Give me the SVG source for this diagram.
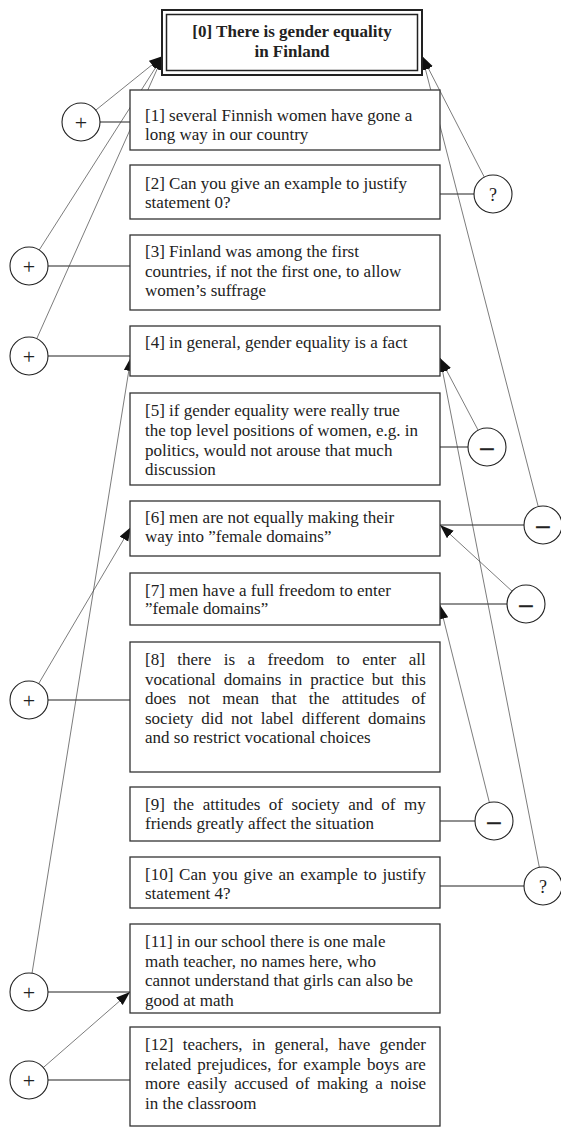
<svg xmlns="http://www.w3.org/2000/svg" width="561" height="1128" viewBox="0 0 561 1128">
  <style>
    .box { fill: #ffffff; stroke: #333333; stroke-width: 1.3; }
    .txt { font-family: "Liberation Serif", "Times New Roman", serif; font-size: 17px; fill: #222222; }
    .ttl { font-family: "Liberation Serif", "Times New Roman", serif; font-size: 17px; font-weight: bold; fill: #222222; text-anchor: middle; }
    .hub { fill: #ffffff; stroke: #222222; stroke-width: 1.1; }
    .sym { font-family: "Liberation Serif", "Times New Roman", serif; font-size: 22px; fill: #222222; text-anchor: middle; }
    .neg { font-family: "Liberation Sans", Arial, sans-serif; font-size: 24px; fill: #222222; stroke: #222222; stroke-width: 0.5; text-anchor: middle; }
    .qst { font-family: "Liberation Serif", "Times New Roman", serif; font-size: 18px; fill: #222222; text-anchor: middle; }
    .link { stroke: #222222; stroke-width: 1.1; fill: none; }
    .arc { stroke: #444444; stroke-width: 0.7; fill: none; marker-end: url(#head); }
  </style>
  <defs>
    <marker id="head" markerUnits="userSpaceOnUse" markerWidth="15" markerHeight="11" refX="14" refY="5" orient="auto">
      <path d="M0,0 L14,5 L0,10 Z" fill="#111111"/>
    </marker>
  </defs>

  <rect width="561" height="1128" fill="#ffffff"/>

  <!-- connectors -->
  <g id="connectors">
    <!-- plain links: relation hub to its source statement -->
    <line class="link" x1="81" y1="122" x2="130" y2="122"/>
    <line class="link" x1="440" y1="194" x2="493" y2="194"/>
    <line class="link" x1="29" y1="266" x2="130" y2="266"/>
    <line class="link" x1="29" y1="356" x2="130" y2="356"/>
    <line class="link" x1="440" y1="447" x2="487" y2="447"/>
    <line class="link" x1="440" y1="525" x2="543" y2="525"/>
    <line class="link" x1="440" y1="604" x2="526" y2="604"/>
    <line class="link" x1="29" y1="700" x2="130" y2="700"/>
    <line class="link" x1="440" y1="821" x2="494" y2="821"/>
    <line class="link" x1="440" y1="886" x2="543" y2="886"/>
    <line class="link" x1="29" y1="992" x2="130" y2="992"/>
    <line class="link" x1="29" y1="1080" x2="130" y2="1080"/>
    <!-- arrows: relation hub to its target statement -->
    <line class="arc" x1="81" y1="122" x2="163" y2="56"/>
    <line class="arc" x1="29" y1="266" x2="163" y2="56"/>
    <line class="arc" x1="29" y1="356" x2="163" y2="56"/>
    <line class="arc" x1="493" y1="194" x2="422" y2="56"/>
    <line class="arc" x1="543" y1="525" x2="422" y2="56"/>
    <line class="arc" x1="487" y1="447" x2="440" y2="358"/>
    <line class="arc" x1="543" y1="886" x2="440" y2="358"/>
    <line class="arc" x1="526" y1="604" x2="440" y2="525"/>
    <line class="arc" x1="494" y1="821" x2="440" y2="605"/>
    <line class="arc" x1="29" y1="700" x2="131" y2="527"/>
    <line class="arc" x1="29" y1="992" x2="131" y2="357"/>
    <line class="arc" x1="29" y1="1080" x2="130" y2="992"/>
  </g>

  <!-- statements -->
  <g id="s0">
    <rect x="162" y="10" width="260" height="65" fill="#ffffff" stroke="#222222" stroke-width="2"/>
    <rect x="166.5" y="14.5" width="251" height="56" fill="none" stroke="#222222" stroke-width="1.5"/>
    <text class="ttl" x="292" y="37">[0] There is gender equality</text>
    <text class="ttl" x="292" y="57">in Finland</text>
  </g>
  <g id="s1">
    <rect class="box" x="130" y="90" width="310" height="60"/>
    <text class="txt" x="145" y="121">[1] several Finnish women have gone a</text>
    <text class="txt" x="145" y="140">long way in our country</text>
  </g>
  <g id="s2">
    <rect class="box" x="130" y="165" width="310" height="54"/>
    <text class="txt" x="145" y="189">[2] Can you give an example to justify</text>
    <text class="txt" x="145" y="208">statement 0?</text>
  </g>
  <g id="s3">
    <rect class="box" x="130" y="235" width="310" height="75"/>
    <text class="txt" x="145" y="257">[3] Finland was among the first</text>
    <text class="txt" x="145" y="276.5">countries, if not the first one, to allow</text>
    <text class="txt" x="145" y="296">women’s suffrage</text>
  </g>
  <g id="s4">
    <rect class="box" x="130" y="326" width="310" height="50"/>
    <text class="txt" x="145" y="348">[4] in general, gender equality is a fact</text>
  </g>
  <g id="s5">
    <rect class="box" x="130" y="393" width="310" height="92"/>
    <text class="txt" x="145" y="416">[5] if gender equality were really true</text>
    <text class="txt" x="145" y="436">the top level positions of women, e.g. in</text>
    <text class="txt" x="145" y="455.5">politics, would not arouse that much</text>
    <text class="txt" x="145" y="475">discussion</text>
  </g>
  <g id="s6">
    <rect class="box" x="130" y="501" width="310" height="55"/>
    <text class="txt" x="145" y="523">[6] men are not equally making their</text>
    <text class="txt" x="145" y="542">way into ”female domains”</text>
  </g>
  <g id="s7">
    <rect class="box" x="130" y="573" width="310" height="52"/>
    <text class="txt" x="145" y="595.5">[7] men have a full freedom to enter</text>
    <text class="txt" x="145" y="614">”female domains”</text>
  </g>
  <g id="s8">
    <rect class="box" x="130" y="642" width="310" height="130"/>
    <text class="txt" x="145" y="665" word-spacing="8.2">[8] there is a freedom to enter all</text>
    <text class="txt" x="145" y="684.5" word-spacing="3.6">vocational domains in practice but this</text>
    <text class="txt" x="145" y="704" word-spacing="7.9">does not mean that the attitudes of</text>
    <text class="txt" x="145" y="723.5" word-spacing="3.8">society did not label different domains</text>
    <text class="txt" x="145" y="743">and so restrict vocational choices</text>
  </g>
  <g id="s9">
    <rect class="box" x="130" y="787" width="310" height="54"/>
    <text class="txt" x="145" y="810" word-spacing="4.3">[9] the attitudes of society and of my</text>
    <text class="txt" x="145" y="829">friends greatly affect the situation</text>
  </g>
  <g id="s10">
    <rect class="box" x="130" y="857" width="310" height="51"/>
    <text class="txt" x="145" y="880" word-spacing="1.5">[10] Can you give an example to justify</text>
    <text class="txt" x="145" y="898.5">statement 4?</text>
  </g>
  <g id="s11">
    <rect class="box" x="130" y="924" width="310" height="89"/>
    <text class="txt" x="145" y="947">[11] in our school there is one male</text>
    <text class="txt" x="145" y="966.5">math teacher, no names here, who</text>
    <text class="txt" x="145" y="986">cannot understand that girls can also be</text>
    <text class="txt" x="145" y="1005.5">good at math</text>
  </g>
  <g id="s12">
    <rect class="box" x="130" y="1027" width="310" height="99"/>
    <text class="txt" x="145" y="1050" word-spacing="5.1">[12] teachers, in general, have gender</text>
    <text class="txt" x="145" y="1069.5" word-spacing="1.8">related prejudices, for example boys are</text>
    <text class="txt" x="145" y="1089" word-spacing="3.1">more easily accused of making a noise</text>
    <text class="txt" x="145" y="1108.5">in the classroom</text>
  </g>

  <!-- relation hubs -->
  <g id="r1"><circle class="hub" cx="81" cy="122" r="19"/><text class="sym" x="81" y="129.5">+</text></g>
  <g id="r2"><circle class="hub" cx="493" cy="194" r="19"/><text class="qst" x="493" y="201">?</text></g>
  <g id="r3"><circle class="hub" cx="29" cy="266" r="19"/><text class="sym" x="29" y="273.5">+</text></g>
  <g id="r4"><circle class="hub" cx="29" cy="356" r="19"/><text class="sym" x="29" y="363.5">+</text></g>
  <g id="r5"><circle class="hub" cx="487" cy="447" r="19"/><text class="neg" x="487" y="455">–</text></g>
  <g id="r6"><circle class="hub" cx="543" cy="525" r="19"/><text class="neg" x="543" y="533">–</text></g>
  <g id="r7"><circle class="hub" cx="526" cy="604" r="19"/><text class="neg" x="526" y="612">–</text></g>
  <g id="r8"><circle class="hub" cx="29" cy="700" r="19"/><text class="sym" x="29" y="707.5">+</text></g>
  <g id="r9"><circle class="hub" cx="494" cy="821" r="19"/><text class="neg" x="494" y="829">–</text></g>
  <g id="r10"><circle class="hub" cx="543" cy="886" r="19"/><text class="qst" x="543" y="893">?</text></g>
  <g id="r11"><circle class="hub" cx="29" cy="992" r="19"/><text class="sym" x="29" y="999.5">+</text></g>
  <g id="r12"><circle class="hub" cx="29" cy="1080" r="19"/><text class="sym" x="29" y="1087.5">+</text></g>
</svg>
